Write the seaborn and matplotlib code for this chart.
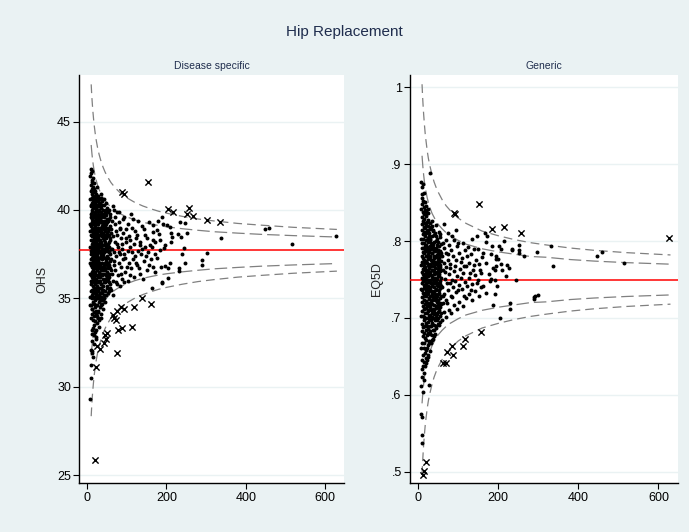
import matplotlib
matplotlib.use("Agg")
import matplotlib.pyplot as plt
import seaborn as sns
import pandas as pd

# ---- Disease specific (OHS) ----
ohs_mean = 37.72
# providers with small n: (n, [scores])
ohs_cols = [
    (8, [29.3, 34.6, 35.1, 36.4, 37.0, 37.9, 38.8, 39.2, 40.6, 41.9]),
    (9, [30.5, 33.9, 35.4, 36.0, 37.2, 37.7, 38.6, 39.8, 40.3, 41.1, 42.3]),
    (10, [31.2, 32.1, 34.6, 35.8, 36.3, 36.9, 37.5, 38.3, 39.1, 39.6, 40.2, 41.4, 42.1]),
    (11, [32.0, 33.2, 34.4, 35.2, 36.2, 37.0, 37.8, 38.8, 39.5, 40.7, 41.7]),
    (12, [31.9, 33.0, 34.1, 35.5, 36.5, 37.3, 38.1, 38.9, 39.9, 40.4, 41.2, 42.2]),
    (13, [32.6, 34.4, 35.0, 36.0, 36.8, 37.6, 38.5, 39.3, 40.0, 40.9, 41.6]),
    (14, [33.3, 34.8, 35.7, 36.4, 37.1, 37.9, 38.7, 39.6, 40.5, 41.3]),
    (15, [31.7, 33.8, 35.3, 36.1, 36.6, 37.4, 38.2, 38.6, 39.2, 40.1, 40.8, 41.8]),
    (16, [32.9, 34.2, 35.6, 36.3, 37.0, 37.7, 38.4, 39.0, 39.7, 40.3, 41.0]),
    (17, [33.5, 34.7, 35.4, 36.2, 36.9, 37.5, 38.0, 38.9, 39.4, 40.6, 41.5]),
    (18, [32.4, 34.0, 35.1, 35.9, 36.7, 37.2, 38.3, 38.8, 39.6, 40.2, 41.2]),
    (19, [33.1, 34.5, 35.8, 36.5, 37.3, 38.1, 38.6, 39.3, 39.9, 40.7]),
    (20, [33.7, 34.9, 35.5, 36.4, 37.0, 37.8, 38.5, 39.1, 39.8, 40.4, 41.1]),
    (21, [32.7, 34.1, 35.3, 36.0, 36.7, 37.4, 38.2, 38.7, 39.5, 40.1, 40.8]),
    (22, [32.8, 34.3, 35.2, 36.1, 36.8, 37.6, 38.2, 38.9, 39.5, 40.0, 40.9]),
    (23, [33.2, 34.6, 35.6, 36.3, 37.1, 37.9, 38.4, 39.2, 39.7, 40.5]),
    (24, [33.6, 34.6, 35.7, 36.6, 37.4, 38.0, 38.7, 39.4, 40.3, 41.3]),
    (25, [34.0, 35.0, 35.9, 36.9, 37.5, 38.3, 38.8, 39.6, 40.2]),
    (26, [33.9, 35.0, 35.9, 36.7, 37.2, 37.9, 38.6, 39.2, 39.7, 40.5]),
    (27, [34.3, 35.4, 36.2, 37.0, 37.8, 38.5, 39.0, 39.9, 40.7]),
    (28, [34.2, 35.4, 36.3, 37.1, 37.7, 38.4, 39.0, 39.6, 40.2, 40.8]),
    (29, [33.8, 35.2, 36.0, 36.8, 37.6, 38.1, 38.9, 39.5, 40.4]),
    (30, [33.4, 34.8, 35.6, 36.5, 37.3, 38.1, 38.8, 39.4, 40.0, 40.6]),
    (31, [34.9, 36.0, 36.9, 37.7, 38.6, 39.7]),
    (32, [34.5, 35.3, 36.2, 37.0, 37.6, 38.3, 38.9, 39.5, 40.4]),
    (33, [35.1, 36.4, 37.3, 38.2, 39.0, 40.2]),
    (34, [33.9, 34.9, 35.8, 36.6, 37.4, 38.0, 38.6, 39.3, 40.1, 40.9]),
    (35, [34.6, 35.6, 36.7, 37.9, 38.8, 39.6]),
    (36, [34.1, 35.1, 35.8, 36.8, 37.5, 38.2, 38.7, 39.3, 39.9, 40.7]),
    (37, [35.3, 36.3, 37.0, 38.0, 39.4, 40.5]),
    (38, [34.7, 35.5, 36.4, 37.2, 37.8, 38.5, 39.1, 39.8, 40.3]),
    (39, [34.9, 36.1, 37.6, 38.4, 39.0]),
    (40, [34.4, 35.7, 36.6, 37.4, 38.0, 38.6, 39.2, 40.0]),
    (41, [35.5, 36.8, 37.5, 38.7, 39.7]),
    (42, [35.0, 35.9, 36.9, 37.6, 38.3, 38.9, 39.6, 40.3]),
    (43, [35.2, 36.4, 37.8, 38.5, 39.3, 40.6]),
    (44, [35.9, 37.0, 38.2, 39.1]),
    (45, [34.8, 36.1, 36.7, 37.3, 38.1, 38.8, 39.4, 39.9]),
    (46, [35.4, 36.6, 37.7, 38.6, 39.8]),
    (47, [36.0, 37.2, 38.0, 39.2, 40.0]),
    (48, [35.2, 36.3, 37.1, 37.9, 38.4, 39.0, 39.7, 40.4]),
    (49, [35.7, 36.9, 37.8, 38.7]),
    (50, [36.2, 37.4, 38.5, 39.5]),
    (51, [35.6, 36.5, 37.0, 37.7, 38.6, 39.3, 40.1]),
    (52, [35.3, 36.7, 37.3, 38.1, 39.9]),
    (53, [36.1, 37.0, 38.8, 39.4]),
    (54, [35.4, 36.2, 36.9, 37.6, 38.2, 38.9, 39.5]),
    (55, [35.9, 36.8, 37.9, 38.6, 40.0]),
    (56, [36.4, 37.7, 39.0]),
    (57, [35.8, 36.7, 37.5, 38.3, 39.1, 39.8]),
    (58, [35.6, 37.1, 38.4, 39.6]),
    (59, [36.6, 37.8, 38.9]),
]
# larger providers: (n, score)
ohs_tail = [
    (60, 35.5), (62, 36.4), (61, 37.2), (63, 37.8), (60, 38.7), (62, 39.4), (64, 40.2),
    (66, 36.0), (67, 36.9), (68, 37.6), (66, 38.5), (69, 39.2), (67, 40.0),
    (72, 35.9), (71, 36.6), (73, 37.4), (74, 38.1), (72, 38.8), (71, 39.6),
    (77, 36.3), (79, 37.0), (78, 37.9), (76, 38.6), (79, 39.3),
    (83, 35.7), (84, 36.8), (82, 37.5), (85, 38.4), (83, 39.0), (81, 39.9),
    (89, 36.1), (90, 37.2), (88, 37.8), (91, 38.7), (90, 39.5),
    (96, 36.5), (95, 37.3), (97, 38.2), (98, 38.9), (94, 39.6),
    (103, 36.0), (105, 37.0), (102, 37.7), (106, 38.5), (104, 39.2),
    (110, 36.7), (112, 37.6), (109, 38.3), (113, 39.0), (111, 39.8),
    (118, 36.2), (120, 37.4), (117, 38.1), (121, 38.8),
    (126, 36.9), (128, 37.7), (125, 38.6), (129, 39.4),
    (134, 36.4), (136, 37.5), (133, 38.2), (137, 39.1),
    (142, 37.1), (145, 37.9), (143, 38.9),
    (151, 36.6), (153, 37.6), (150, 38.4), (155, 39.3),
    (65, 35.2), (68, 37.1), (70, 38.2), (74, 39.9), (76, 35.8), (80, 37.6), (82, 38.9),
    (86, 36.4), (87, 38.1), (92, 35.9), (93, 37.5), (99, 38.4), (100, 36.8), (107, 36.3),
    (108, 37.9), (115, 37.2), (116, 39.5), (123, 37.0), (124, 38.4), (131, 36.7),
    (132, 38.0), (139, 37.8), (140, 36.1), (147, 38.6), (148, 37.4), (156, 36.9),
    (165, 38.3), (172, 37.5), (178, 39.4), (186, 36.8),
    (160, 37.2), (158, 38.0), (163, 35.6), (163, 37.9), (167, 39.15), (167, 38.77),
    (167, 36.79), (171, 38.2), (171, 36.5), (176, 38.87), (176, 37.26), (180, 38.64),
    (184, 37.74), (184, 38.3), (188, 39.62), (188, 35.94), (189, 35.85), (192, 39.19),
    (194, 37.83), (196, 36.83), (197, 38.02), (201, 39.13), (203, 36.7), (204, 36.13),
    (209, 39.05), (209, 37.02), (211, 38.71), (211, 38.2), (214, 38.49), (230, 38.64),
    (231, 36.7), (231, 36.56), (233, 39.34), (236, 38.49), (238, 37.49), (243, 37.83),
    (246, 36.98), (247, 39.28), (252, 38.68), (290, 37.17), (290, 36.87), (301, 37.55),
    (337, 38.43), (449, 38.9), (459, 39.0), (517, 38.05), (627, 38.54),
]
# providers outside the 99.8% limits
ohs_flagged = [
    (88, 41.0), (92, 40.9), (153, 41.57), (204, 40.05), (217, 39.9), (256, 40.1),
    (252, 39.77), (266, 39.66), (301, 39.42), (334, 39.34),
    (138, 35.0), (160, 34.68), (117, 34.49), (114, 33.36), (87, 33.34), (77, 33.2),
    (93, 34.38), (85, 34.5), (74, 34.28), (68, 33.9), (72, 33.77), (64, 34.05),
    (49, 33.02), (45, 32.92), (47, 32.68), (43, 32.45), (32, 32.13), (25, 32.3),
    (22, 31.13), (74, 31.88), (19, 25.85),
]

# ---- Generic (EQ5D) ----
eq_mean = 0.75
eq_cols = [
    (8, [0.575, 0.612, 0.661, 0.702, 0.738, 0.769, 0.803, 0.842, 0.877]),
    (9, [0.548, 0.634, 0.683, 0.721, 0.752, 0.781, 0.822, 0.861]),
    (10, [0.538, 0.571, 0.645, 0.692, 0.727, 0.745, 0.760, 0.791, 0.815, 0.848, 0.871]),
    (11, [0.623, 0.668, 0.709, 0.737, 0.773, 0.798, 0.831, 0.856]),
    (12, [0.604, 0.652, 0.688, 0.716, 0.748, 0.764, 0.786, 0.809, 0.838, 0.874]),
    (13, [0.638, 0.676, 0.703, 0.732, 0.757, 0.778, 0.803, 0.826, 0.852]),
    (14, [0.619, 0.661, 0.697, 0.724, 0.743, 0.768, 0.791, 0.818, 0.845]),
    (15, [0.643, 0.681, 0.712, 0.739, 0.755, 0.776, 0.797, 0.829, 0.862]),
    (16, [0.628, 0.667, 0.701, 0.729, 0.751, 0.771, 0.784, 0.812, 0.835]),
    (17, [0.655, 0.689, 0.718, 0.741, 0.762, 0.789, 0.806, 0.824, 0.851]),
    (18, [0.637, 0.674, 0.706, 0.733, 0.749, 0.766, 0.794, 0.817, 0.841]),
    (19, [0.648, 0.693, 0.722, 0.746, 0.759, 0.781, 0.801, 0.833]),
    (20, [0.659, 0.685, 0.713, 0.736, 0.753, 0.774, 0.795, 0.821, 0.846]),
    (21, [0.641, 0.672, 0.700, 0.728, 0.744, 0.763, 0.787, 0.810, 0.839]),
    (22, [0.646, 0.678, 0.707, 0.731, 0.756, 0.772, 0.792, 0.813, 0.837]),
    (23, [0.661, 0.690, 0.715, 0.739, 0.758, 0.780, 0.802, 0.825]),
    (24, [0.665, 0.695, 0.719, 0.742, 0.761, 0.783, 0.804, 0.828]),
    (25, [0.649, 0.681, 0.709, 0.733, 0.750, 0.769, 0.790, 0.814, 0.836]),
    (26, [0.652, 0.686, 0.711, 0.735, 0.754, 0.777, 0.799, 0.819, 0.842]),
    (27, [0.613, 0.670, 0.702, 0.726, 0.747, 0.766, 0.786, 0.807]),
    (28, [0.668, 0.699, 0.725, 0.747, 0.765, 0.788, 0.811]),
    (29, [0.657, 0.690, 0.717, 0.740, 0.760, 0.781, 0.803, 0.823]),
    (30, [0.683, 0.714, 0.738, 0.757, 0.779, 0.801]),
    (31, [0.679, 0.704, 0.729, 0.750, 0.770, 0.793, 0.816, 0.889]),
    (32, [0.667, 0.697, 0.721, 0.745, 0.768, 0.790, 0.818]),
    (33, [0.689, 0.711, 0.735, 0.756, 0.776, 0.798]),
    (34, [0.672, 0.701, 0.723, 0.744, 0.763, 0.785, 0.807, 0.826]),
    (35, [0.678, 0.706, 0.731, 0.753, 0.774, 0.795, 0.820]),
    (36, [0.693, 0.718, 0.742, 0.762, 0.784]),
    (37, [0.684, 0.712, 0.734, 0.752, 0.775, 0.796, 0.815]),
    (38, [0.673, 0.700, 0.727, 0.749, 0.771, 0.792, 0.813]),
    (39, [0.691, 0.717, 0.740, 0.761, 0.781]),
    (40, [0.676, 0.705, 0.727, 0.746, 0.767, 0.789, 0.808]),
    (41, [0.685, 0.710, 0.735, 0.757, 0.778, 0.799]),
    (42, [0.697, 0.723, 0.745, 0.765, 0.787, 0.811]),
    (43, [0.679, 0.706, 0.731, 0.752, 0.773]),
    (44, [0.689, 0.716, 0.738, 0.758, 0.779, 0.800, 0.821]),
    (45, [0.701, 0.726, 0.748, 0.770, 0.791]),
    (46, [0.687, 0.713, 0.737, 0.759, 0.780, 0.806]),
    (47, [0.705, 0.729, 0.751, 0.771, 0.795]),
    (48, [0.697, 0.721, 0.743, 0.760, 0.782, 0.803]),
    (49, [0.692, 0.718, 0.741, 0.764, 0.785]),
    (50, [0.708, 0.731, 0.754, 0.776, 0.799]),
    (51, [0.700, 0.724, 0.746, 0.767, 0.789]),
    (52, [0.691, 0.714, 0.733, 0.755, 0.773, 0.794, 0.812]),
    (53, [0.711, 0.736, 0.757, 0.778]),
    (54, [0.695, 0.720, 0.744, 0.766, 0.787, 0.809]),
    (55, [0.714, 0.739, 0.761, 0.782]),
    (56, [0.703, 0.726, 0.748, 0.769, 0.786, 0.805]),
    (57, [0.706, 0.729, 0.752, 0.774, 0.796]),
    (58, [0.718, 0.742, 0.763, 0.784]),
]
eq_tail = [
    (60, 0.698), (62, 0.719), (61, 0.740), (63, 0.762), (60, 0.780), (62, 0.798),
    (66, 0.708), (65, 0.731), (67, 0.751), (64, 0.772), (66, 0.791), (65, 0.822),
    (71, 0.701), (70, 0.724), (72, 0.745), (69, 0.766), (71, 0.784), (70, 0.802),
    (77, 0.711), (75, 0.736), (78, 0.757), (76, 0.776), (77, 0.795), (75, 0.811),
    (83, 0.706), (82, 0.729), (84, 0.750), (81, 0.770), (83, 0.788),
    (89, 0.717), (88, 0.740), (90, 0.761), (87, 0.781), (89, 0.801),
    (96, 0.712), (95, 0.734), (97, 0.754), (94, 0.775), (96, 0.793), (95, 0.815),
    (103, 0.721), (102, 0.743), (104, 0.764), (101, 0.785),
    (111, 0.716), (110, 0.738), (112, 0.758), (109, 0.778), (111, 0.797),
    (119, 0.726), (118, 0.747), (120, 0.768), (117, 0.789),
    (127, 0.731), (126, 0.752), (128, 0.771), (125, 0.792),
    (135, 0.723), (134, 0.744), (136, 0.763), (133, 0.783), (135, 0.803),
    (143, 0.735), (142, 0.756), (144, 0.776),
    (151, 0.729), (150, 0.749), (152, 0.770), (149, 0.790),
    (158, 0.740), (157, 0.759), (159, 0.779),
    (63, 0.728), (68, 0.760), (73, 0.719), (74, 0.783), (79, 0.746), (80, 0.765),
    (85, 0.727), (86, 0.806), (92, 0.748), (93, 0.768), (99, 0.737), (100, 0.797),
    (106, 0.752), (107, 0.773), (114, 0.729), (115, 0.768), (122, 0.741), (123, 0.781),
    (130, 0.758), (131, 0.736), (139, 0.769), (140, 0.790), (146, 0.746), (147, 0.806),
    (155, 0.762), (163, 0.741), (170, 0.772), (176, 0.757), (183, 0.783), (198, 0.741),
    (162, 0.784), (166, 0.810), (169, 0.799), (169, 0.733), (171, 0.806), (179, 0.748),
    (181, 0.751), (185, 0.793), (186, 0.765), (187, 0.717), (191, 0.763), (191, 0.731),
    (193, 0.750), (194, 0.777), (195, 0.780), (195, 0.767), (200, 0.777), (202, 0.793),
    (204, 0.700), (206, 0.790), (207, 0.770), (209, 0.762), (214, 0.800), (220, 0.755),
    (222, 0.769), (227, 0.765), (229, 0.719), (229, 0.712), (234, 0.790), (234, 0.788),
    (244, 0.749), (251, 0.795), (251, 0.789), (252, 0.784), (264, 0.780), (289, 0.727),
    (289, 0.725), (292, 0.729), (298, 0.786), (300, 0.730), (333, 0.793), (337, 0.768),
    (446, 0.780), (459, 0.786), (515, 0.772),
]
eq_flagged = [
    (89, 0.837), (91, 0.835), (151, 0.848), (184, 0.816), (215, 0.818), (256, 0.810),
    (626, 0.804),
    (158, 0.682), (116, 0.673), (113, 0.663), (86, 0.663), (87, 0.652), (73, 0.656),
    (71, 0.642), (62, 0.642), (19, 0.513), (16, 0.501), (13, 0.496),
]

# funnel limits: half-widths around the mean, read at these n
limit_n = [10, 11, 12, 13, 14, 16, 18, 20, 23, 26, 30, 35, 40, 45, 50, 60, 70, 80,
           90, 100, 120, 140, 160, 180, 200, 240, 280, 320, 380, 440, 520, 630]
ohs_w998 = [9.39, 8.95, 8.57, 8.24, 7.94, 7.43, 7.00, 6.64, 6.19, 5.82, 5.42, 5.02,
            4.70, 4.43, 4.20, 3.83, 3.55, 3.32, 3.13, 2.97, 2.71, 2.51, 2.35, 2.21,
            2.10, 1.92, 1.77, 1.66, 1.52, 1.42, 1.30, 1.18]
ohs_w95 = [5.96, 5.68, 5.44, 5.23, 5.04, 4.71, 4.44, 4.21, 3.93, 3.70, 3.44, 3.19,
           2.98, 2.81, 2.67, 2.43, 2.25, 2.11, 1.99, 1.89, 1.72, 1.59, 1.49, 1.40,
           1.33, 1.22, 1.13, 1.05, 0.97, 0.90, 0.83, 0.75]
eq_w998 = [0.254, 0.242, 0.232, 0.223, 0.215, 0.201, 0.189, 0.180, 0.167, 0.157,
           0.147, 0.136, 0.127, 0.120, 0.114, 0.104, 0.096, 0.090, 0.085, 0.080,
           0.073, 0.068, 0.063, 0.060, 0.057, 0.052, 0.048, 0.045, 0.041, 0.038,
           0.035, 0.032]
eq_w95 = [0.161, 0.154, 0.147, 0.142, 0.136, 0.127, 0.120, 0.114, 0.106, 0.100,
          0.093, 0.086, 0.081, 0.076, 0.072, 0.066, 0.061, 0.057, 0.054, 0.051,
          0.046, 0.043, 0.040, 0.038, 0.036, 0.033, 0.030, 0.029, 0.026, 0.024,
          0.022, 0.020]

ohs_ticks = [25, 30, 35, 40, 45]
ohs_ticklabels = ["25", "30", "35", "40", "45"]
eq_ticks = [0.5, 0.6, 0.7, 0.8, 0.9, 1.0]
eq_ticklabels = [".5", ".6", ".7", ".8", ".9", "1"]
x_ticks = [0, 200, 400, 600]

BG = "#EAF2F3"
NAVY = "#1f2d4d"

sns.set_style("white")
plt.rcParams["font.family"] = ["Liberation Sans", "DejaVu Sans"]


def to_frame(cols, tail):
    n = [c for c, ys in cols for _ in ys] + [t[0] for t in tail]
    y = [v for c, ys in cols for v in ys] + [t[1] for t in tail]
    return pd.DataFrame({"n": n, "y": y})


def draw_panel(ax, cols, tail, flagged, mean, w95, w998, ylim, ticks, labels, ylabel, title):
    ax.set_facecolor("white")
    for t in ticks:
        ax.axhline(t, color=BG, lw=1.0, zorder=0)

    # control limits
    for w, dash in [(w998, (7, 4)), (w95, (10, 4))]:
        sns.lineplot(x=limit_n, y=[mean + v for v in w], ax=ax, color="#808080",
                     lw=0.9, linestyle=(0, dash), zorder=2)
        sns.lineplot(x=limit_n, y=[mean - v for v in w], ax=ax, color="#808080",
                     lw=0.9, linestyle=(0, dash), zorder=2)
    ax.axhline(mean, color="red", lw=1.1, zorder=3)

    pts = to_frame(cols, tail)
    sns.scatterplot(data=pts, x="n", y="y", ax=ax, color="black", s=8,
                    linewidth=0, marker="o", zorder=4)
    fl = pd.DataFrame(flagged, columns=["n", "y"])
    sns.scatterplot(data=fl, x="n", y="y", ax=ax, color="black", s=20,
                    marker="x", linewidth=1.0, zorder=4)

    ax.set_xlim(-20, 648)
    ax.set_ylim(*ylim)
    ax.set_xticks(x_ticks)
    ax.set_xticklabels([str(v) for v in x_ticks])
    ax.set_yticks(ticks)
    ax.set_yticklabels(labels)
    ax.tick_params(direction="out", length=4, width=0.8, labelsize=9,
                   colors="black", pad=2, left=True, bottom=True)
    for s in ["top", "right"]:
        ax.spines[s].set_visible(False)
    for s in ["left", "bottom"]:
        ax.spines[s].set_color("black")
        ax.spines[s].set_linewidth(1.0)
    ax.set_xlabel("")
    ax.set_ylabel(ylabel, fontsize=9, labelpad=6)
    ax.set_title(title, fontsize=7.5, color=NAVY, pad=4)


fig = plt.figure(figsize=(6.89, 5.32), dpi=100)
fig.patch.set_facecolor(BG)
ax1 = fig.add_axes([0.1151, 0.0915, 0.3842, 0.7675])
ax2 = fig.add_axes([0.5951, 0.0915, 0.3885, 0.7675])

draw_panel(ax1, ohs_cols, ohs_tail, ohs_flagged, ohs_mean, ohs_w95, ohs_w998,
           (24.53, 47.64), ohs_ticks, ohs_ticklabels, "OHS", "Disease specific")
draw_panel(ax2, eq_cols, eq_tail, eq_flagged, eq_mean, eq_w95, eq_w998,
           (0.485, 1.016), eq_ticks, eq_ticklabels, "EQ5D", "Generic")

fig.text(0.5, 1 - 32 / 532, "Hip Replacement", ha="center", va="center",
         fontsize=11, color=NAVY)

fig.savefig("out.png", dpi=100, facecolor=BG)
